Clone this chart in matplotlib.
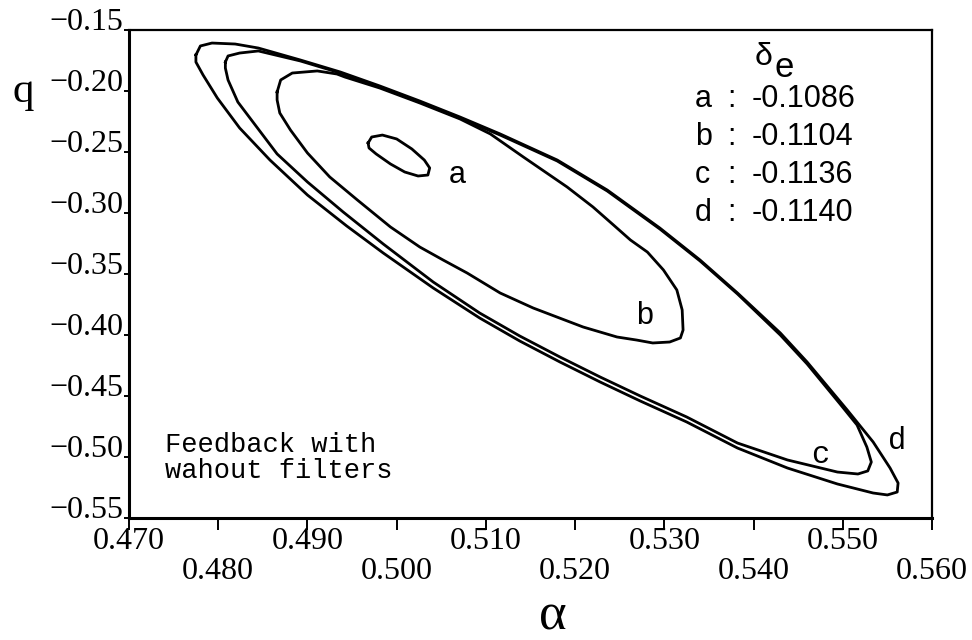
import numpy as np
import matplotlib
matplotlib.use("Agg")
import matplotlib.pyplot as plt

# --- data (alpha, q) ---
a_alpha = [0.4968, 0.4972, 0.4984, 0.5000, 0.5017, 0.5031, 0.5037, 0.5035,
           0.5024, 0.5009, 0.4993, 0.4977, 0.4969]
a_q = [-0.2427, -0.2378, -0.2362, -0.2394, -0.2476, -0.2567, -0.2632, -0.2690,
       -0.2698, -0.2665, -0.2599, -0.2517, -0.2468]

b_alpha = [0.4866, 0.4870, 0.4883, 0.4911, 0.4933, 0.4942, 0.4981, 0.5026,
           0.5071, 0.5105, 0.5142, 0.5191, 0.5220, 0.5243, 0.5262, 0.5281,
           0.5299, 0.5314, 0.5320, 0.5321, 0.5318, 0.5306, 0.5287, 0.5269,
           0.5247, 0.5209, 0.5153, 0.5116, 0.5079, 0.5052, 0.5026, 0.4993,
           0.4956, 0.4925, 0.4900, 0.4881, 0.4869, 0.4866]
b_q = [-0.2009, -0.1910, -0.1853, -0.1836, -0.1861, -0.1886, -0.1976, -0.2099,
       -0.2230, -0.2353, -0.2542, -0.2788, -0.2952, -0.3100, -0.3223, -0.3322,
       -0.3469, -0.3633, -0.3797, -0.3962, -0.4027, -0.4060, -0.4068, -0.4044,
       -0.4019, -0.3937, -0.3781, -0.3658, -0.3494, -0.3387, -0.3281, -0.3116,
       -0.2895, -0.2706, -0.2509, -0.2321, -0.2181, -0.2074]

c_alpha = [0.4808, 0.4811, 0.4824, 0.4845, 0.4892, 0.4937, 0.4981, 0.5026,
           0.5071, 0.5116, 0.5180, 0.5236, 0.5295, 0.5340, 0.5382, 0.5430,
           0.5460, 0.5497, 0.5516, 0.5527, 0.5532, 0.5528, 0.5517, 0.5494,
           0.5438, 0.5382, 0.5325, 0.5273, 0.5228, 0.5183, 0.5138, 0.5093,
           0.5041, 0.4985, 0.4940, 0.4900, 0.4866, 0.4844, 0.4822, 0.4811,
           0.4808]
c_q = [-0.1763, -0.1713, -0.1689, -0.1672, -0.1754, -0.1853, -0.1968, -0.2091,
       -0.2222, -0.2362, -0.2575, -0.2821, -0.3133, -0.3395, -0.3666, -0.4003,
       -0.4240, -0.4569, -0.4741, -0.4922, -0.5045, -0.5118, -0.5143, -0.5127,
       -0.5028, -0.4889, -0.4675, -0.4503, -0.4347, -0.4183, -0.4011, -0.3822,
       -0.3568, -0.3256, -0.2993, -0.2747, -0.2517, -0.2304, -0.2091, -0.1910,
       -0.1812]

d_alpha = [0.4775, 0.4780, 0.4793, 0.4819, 0.4845, 0.4892, 0.4937, 0.4981,
           0.5026, 0.5071, 0.5116, 0.5180, 0.5236, 0.5295, 0.5340, 0.5382,
           0.5430, 0.5460, 0.5505, 0.5534, 0.5553, 0.5562, 0.5561, 0.5550,
           0.5534, 0.5494, 0.5438, 0.5382, 0.5325, 0.5273, 0.5228, 0.5183,
           0.5138, 0.5093, 0.5041, 0.4985, 0.4944, 0.4900, 0.4858, 0.4824,
           0.4799, 0.4783, 0.4775]
d_q = [-0.1705, -0.1631, -0.1607, -0.1615, -0.1648, -0.1746, -0.1845, -0.1959,
       -0.2083, -0.2214, -0.2353, -0.2567, -0.2813, -0.3125, -0.3387, -0.3658,
       -0.3986, -0.4224, -0.4618, -0.4880, -0.5094, -0.5217, -0.5291, -0.5315,
       -0.5299, -0.5225, -0.5094, -0.4930, -0.4716, -0.4544, -0.4388, -0.4224,
       -0.4052, -0.3863, -0.3617, -0.3330, -0.3108, -0.2854, -0.2567, -0.2304,
       -0.2058, -0.1869, -0.1763]

curve_names = ["a", "b", "c", "d"]
delta_e = ["-0.1086", "-0.1104", "-0.1136", "-0.1140"]

x_ticks_upper = [0.470, 0.490, 0.510, 0.530, 0.550]
x_ticks_lower = [0.480, 0.500, 0.520, 0.540, 0.560]
y_ticks = [-0.55, -0.50, -0.45, -0.40, -0.35, -0.30, -0.25, -0.20, -0.15]

plt.rcParams["font.family"] = ["Liberation Serif", "DejaVu Serif"]

W, H = 972, 640
fig = plt.figure(figsize=(W / 100, H / 100), dpi=100)
ax = fig.add_axes([129 / W, 1 - 517.5 / H, 803 / W, 487.5 / H])


def fx(px):
    return px / W


def fy(py):
    return 1 - py / H


for xs, ys in [(a_alpha, a_q), (b_alpha, b_q), (c_alpha, c_q), (d_alpha, d_q)]:
    xs = np.append(xs, xs[0])
    ys = np.append(ys, ys[0])
    ax.plot(xs, ys, color="black", lw=2.0, solid_joinstyle="round")

ax.set_xlim(0.470, 0.560)
ax.set_ylim(-0.55, -0.15)

# staggered x tick labels
ax.set_xticks(x_ticks_upper)
ax.set_xticklabels([f"{v:.3f}" for v in x_ticks_upper])
ax.set_xticks(x_ticks_lower, minor=True)
ax.set_xticklabels([f"{v:.3f}" for v in x_ticks_lower], minor=True)
ax.tick_params(axis="x", which="both", direction="out", length=8.5, width=1.4,
               labelsize=23)
ax.tick_params(axis="x", which="major", pad=-2)
ax.tick_params(axis="x", which="minor", pad=20)

ax.set_yticks(y_ticks)
ax.set_yticklabels([f"{v:.2f}".replace("-", "\u2212") for v in y_ticks])
ax.tick_params(axis="y", direction="out", length=3.5, width=1.4, pad=0.5,
               labelsize=23)
for lab in ax.get_yticklabels():
    lab.set_verticalalignment("baseline")

for side in ["left", "bottom"]:
    ax.spines[side].set_linewidth(2.2)
for side in ["top", "right"]:
    ax.spines[side].set_linewidth(1.6)

# axis labels
fig.text(fx(23), fy(102), "q", fontsize=31, ha="center", va="baseline")
fig.text(fx(553), fy(617), "\u03b1", fontsize=38, ha="center", va="center")

# curve labels
ax.text(0.5068, -0.2690, "a", fontsize=22, family="Liberation Sans",
        ha="center", va="center")
ax.text(0.5278, -0.3847, "b", fontsize=22, family="Liberation Sans",
        ha="center", va="center")
ax.text(0.5475, -0.4987, "c", fontsize=22, family="Liberation Mono",
        ha="center", va="center")
ax.text(0.5561, -0.4872, "d", fontsize=22, family="Liberation Mono",
        ha="center", va="center")

# delta_e key
fig.text(fx(755), fy(65), "\u03b4", fontsize=23, family="Liberation Sans",
         va="baseline")
fig.text(fx(774), fy(77), "e", fontsize=25, family="Liberation Sans",
         va="baseline")
for i, (name, val) in enumerate(zip(curve_names, delta_e)):
    base = 107 + 38 * i
    fig.text(fx(695), fy(base), name, fontsize=22, family="Liberation Sans",
             va="baseline")
    fig.text(fx(727), fy(base), ":", fontsize=22, family="Liberation Sans",
             va="baseline")
    fig.text(fx(752), fy(base), val, fontsize=22, family="Liberation Sans",
             va="baseline")

fig.text(fx(165), fy(478), "Feedback with\nwahout filters", fontsize=19.5,
         family="Liberation Mono", va="baseline", linespacing=1.0)

fig.savefig("out.png", dpi=100)
